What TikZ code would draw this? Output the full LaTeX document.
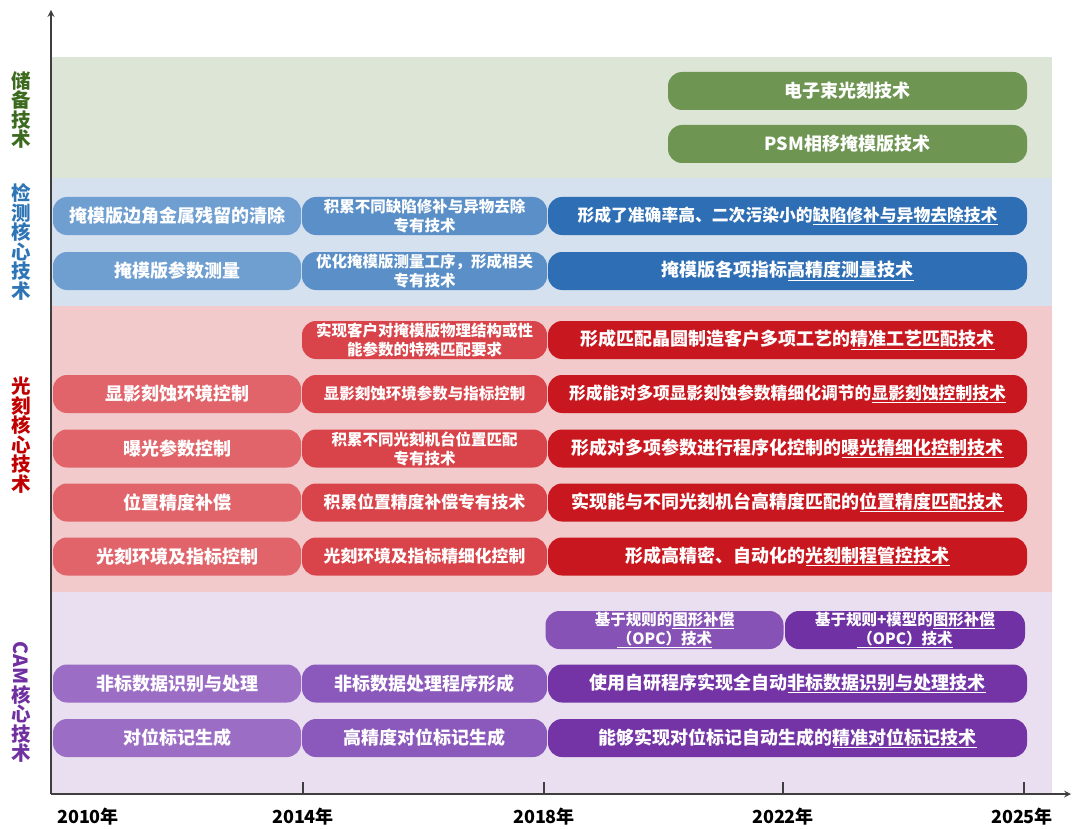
\documentclass[tikz,border=0pt]{standalone}
\usepackage{graphicx}
\usepackage{fontspec}
\setmainfont{Noto Sans CJK SC}
\usetikzlibrary{positioning}

\definecolor{gband}{HTML}{DDE5D6}
\definecolor{gbox}{HTML}{6E9552}
\definecolor{gtext}{HTML}{3C6B1F}
\definecolor{bband}{HTML}{D6E1EF}
\definecolor{bA}{HTML}{6F9FD1}
\definecolor{bB}{HTML}{5A8FC8}
\definecolor{bC}{HTML}{2E6EB4}
\definecolor{btext}{HTML}{2E75B6}
\definecolor{rband}{HTML}{F2CACB}
\definecolor{rA}{HTML}{E0646A}
\definecolor{rB}{HTML}{D8444A}
\definecolor{rC}{HTML}{C8171E}
\definecolor{rtext}{HTML}{C00000}
\definecolor{pband}{HTML}{E9DFF0}
\definecolor{pA}{HTML}{9C6DC5}
\definecolor{pB}{HTML}{8B58BC}
\definecolor{pC}{HTML}{7434A6}
\definecolor{pC1}{HTML}{8752B5}
\definecolor{pC2}{HTML}{6F31A3}
\definecolor{ptext}{HTML}{7030A0}
\definecolor{axisgray}{HTML}{3F3F3F}

\newcommand{\uln}[1]{\underline{#1}}

\begin{document}
\begin{tikzpicture}[x=1pt,y=-1pt,>=stealth,
    box/.style={rounded corners=14pt,inner sep=0pt,minimum height=38pt,text=white,align=center,
                font=\bfseries\fontsize{18}{20}\selectfont},
    colA/.style={box,minimum width=248pt},
    colB/.style={box,minimum width=245pt},
    colC/.style={box,minimum width=479pt},
    small/.style={font=\bfseries\fontsize{15.5}{19}\selectfont},
    mid/.style={font=\bfseries\fontsize{16.8}{19}\selectfont},
    side/.style={align=center,font=\bfseries\fontsize{19.5}{19.5}\selectfont},
    year/.style={font=\bfseries\fontsize{18}{20}\selectfont,text=black},
    axis/.style={draw=axisgray,line width=2pt}]
    \useasboundingbox (0,0) rectangle (1073,829);

    % bands
    \fill[gband] (51,57) rectangle (1052,178);
    \fill[bband] (51,178) rectangle (1052,306);
    \fill[rband] (51,306) rectangle (1052,592);
    \fill[pband] (51,592) rectangle (1052,794);

    % axes
    \coordinate (O) at (51,794);
    \coordinate (ytop) at (51,10);
    \coordinate (xend) at (1071,794);
    \draw[axis,->] (O) -- (ytop);
    \draw[axis,->] (O) -- (xend);

    \node[year] (y10) at (88,817) {2010年};
    \node[year] (y14) at (303,817) {2014年};
    \node[year] (y18) at (544,817) {2018年};
    \node[year] (y22) at (783,817) {2022年};
    \node[year] (y25) at (1022,817) {2025年};
    \foreach \x in {303,544,783,1024}
        \draw[axisgray,line width=1.5pt] (\x,794) -- (\x,782);

    % side labels
    \node[side,text=gtext] (lg) at (21,110) {储\\备\\技\\术};
    \node[side,text=btext] (lb) at (21,242) {检\\测\\核\\心\\技\\术};
    \node[side,text=rtext] (lr) at (21,435) {光\\刻\\核\\心\\技\\术};
    \node[side,text=ptext] (lp) at (21,702) {\rotatebox{-90}{CAM}\\核\\心\\技\\术};

    % reserve
    \node[box,fill=gbox,minimum width=359pt] (e1) at (847.5,91) {电子束光刻技术};
    \node[box,fill=gbox,minimum width=359pt] (e2) at (847.5,144) {PSM相移掩模版技术};

    % inspection
    \node[colA,fill=bA] (b1a) at (177,216) {掩模版边角金属残留的清除};
    \node[colB,fill=bB,small] (b1b) at (424.5,216) {积累不同缺陷修补与异物去除\\专有技术};
    \node[colC,fill=bC,mid] (b1c) at (787.5,216) {形成了准确率高、二次污染小的\uln{缺陷修补与异物去除技术}};
    \node[colA,fill=bA] (b2a) at (177,271) {掩模版参数测量};
    \node[colB,fill=bB,small] (b2b) at (424.5,271) {优化掩模版测量工序，形成相关\\专有技术};
    \node[colC,fill=bC] (b2c) at (787.5,271) {掩模版各项指标\uln{高精度测量技术}};

    % lithography
    \node[colB,fill=rB,small] (r1b) at (424.5,340) {实现客户对掩模版物理结构或性\\能参数的特殊匹配要求};
    \node[colC,fill=rC] (r1c) at (787.5,340) {形成匹配晶圆制造客户多项工艺的\uln{精准工艺匹配技术}};
    \node[colA,fill=rA] (r2a) at (177,394) {显影刻蚀环境控制};
    \node[colB,fill=rB,small] (r2b) at (424.5,394) {显影刻蚀环境参数与指标控制};
    \node[colC,fill=rC,mid] (r2c) at (787.5,394) {形成能对多项显影刻蚀参数精细化调节的\uln{显影刻蚀控制技术}};
    \node[colA,fill=rA] (r3a) at (177,448.5) {曝光参数控制};
    \node[colB,fill=rB,small] (r3b) at (424.5,448.5) {积累不同光刻机台位置匹配\\专有技术};
    \node[colC,fill=rC] (r3c) at (787.5,448.5) {形成对多项参数进行程序化控制的\uln{曝光精细化控制技术}};
    \node[colA,fill=rA] (r4a) at (177,502.5) {位置精度补偿};
    \node[colB,fill=rB,mid] (r4b) at (424.5,502.5) {积累位置精度补偿专有技术};
    \node[colC,fill=rC] (r4c) at (787.5,502.5) {实现能与不同光刻机台高精度匹配的\uln{位置精度匹配技术}};
    \node[colA,fill=rA] (r5a) at (177,556.5) {光刻环境及指标控制};
    \node[colB,fill=rB,mid] (r5b) at (424.5,556.5) {光刻环境及指标精细化控制};
    \node[colC,fill=rC] (r5c) at (787.5,556.5) {形成高精密、自动化的\uln{光刻制程管控技术}};

    % CAM
    \node[box,fill=pC1,small,minimum width=238pt] (p1c) at (664.5,630) {基于规则的\uln{图形补偿}\\\uln{（OPC）技术}};
    \node[box,fill=pC2,small,minimum width=240pt] (p1d) at (905,630) {基于规则+模型的\uln{图形补偿}\\\uln{（OPC）技术}};
    \node[colA,fill=pA] (p2a) at (177,683.5) {非标数据识别与处理};
    \node[colB,fill=pB] (p2b) at (424.5,683.5) {非标数据处理程序形成};
    \node[colC,fill=pC] (p2c) at (787.5,683.5) {使用自研程序实现全自动\uln{非标数据识别与处理技术}};
    \node[colA,fill=pA] (p3a) at (177,738) {对位标记生成};
    \node[colB,fill=pB] (p3b) at (424.5,738) {高精度对位标记生成};
    \node[colC,fill=pC] (p3c) at (787.5,738) {能够实现对位标记自动生成的\uln{精准对位标记技术}};
\end{tikzpicture}
\end{document}
